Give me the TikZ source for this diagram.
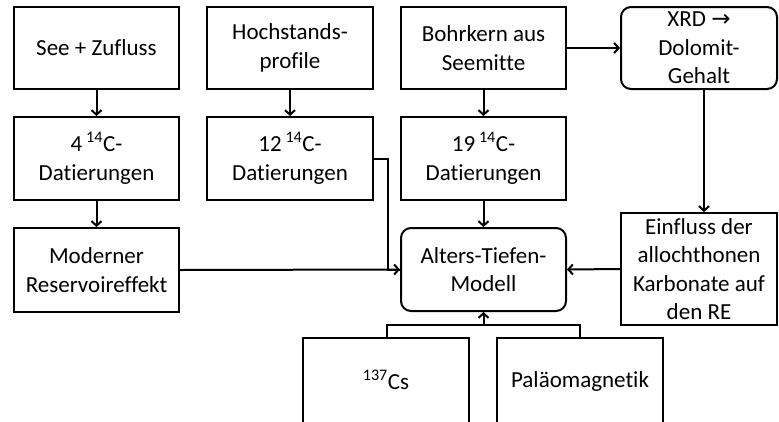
\documentclass[tikz,border=0pt]{standalone}
\usepackage{fontspec}
\setmainfont{Carlito}[Ligatures=NoCommon]
\usetikzlibrary{arrows.meta}
\begin{document}
\begin{tikzpicture}[x=1pt,y=-1pt,
  box/.style={draw,line width=2pt,align=center,inner sep=0pt,font=\fontsize{23}{28.5}\selectfont},
  rbox/.style={box,rounded corners=10pt},
  conn/.style={line width=2pt},
  arr/.style={conn,-{Straight Barb[length=4.5pt,width=10pt,line width=2pt]}}]
\useasboundingbox (0,0) rectangle (779,421);
\begin{scope}
\clip (0,0) rectangle (779,421);
% column 1
\node[box,minimum width=165pt,minimum height=82pt] (see) at (96.5,48) {See + Zufluss};
\node[box,minimum width=165pt,minimum height=83pt] (d4) at (96.5,158.5) {4\,\textsuperscript{14}C-\\Datierungen};
\node[box,minimum width=165pt,minimum height=84pt] (mod) at (96.5,270) {Moderner\\Reservoireffekt};
% column 2
\node[box,minimum width=166pt,minimum height=82pt] (hoch) at (290,48) {Hochstands-\\profile};
\node[box,minimum width=166pt,minimum height=83pt] (d12) at (290,158.5) {12\,\textsuperscript{14}C-\\Datierungen};
% column 3
\node[box,minimum width=165pt,minimum height=82pt] (bohr) at (483.5,48) {Bohrkern aus\\Seemitte};
\node[box,minimum width=165pt,minimum height=83pt] (d19) at (483.5,158.5) {19\,\textsuperscript{14}C-\\Datierungen};
\node[rbox,minimum width=165pt,minimum height=83pt] (atm) at (483.5,269.5) {Alters-Tiefen-\\Modell};
% column 4
\node[rbox,minimum width=156pt,minimum height=82pt] (xrd) at (699,48) {XRD {\fontspec{DejaVu Sans}\fontsize{23}{23}\selectfont →}\\Dolomit-\\Gehalt};
\node[box,minimum width=156pt,minimum height=112pt] (einf) at (699,269) {Einfluss der\\allochthonen\\Karbonate auf\\den RE};
% bottom
\node[box,minimum width=166pt,minimum height=120pt] (cs) at (386,398) {\textsuperscript{137}Cs\\[8pt]};
\node[box,minimum width=166pt,minimum height=120pt] (pal) at (580,398) {Paläomagnetik\\[8pt]};
% connectors
\draw[arr] (see) -- (d4);
\draw[arr] (d4) -- (mod);
\draw[arr] (hoch) -- (d12);
\draw[arr] (bohr) -- (d19);
\draw[arr] (d19) -- (atm);
\draw[arr] (bohr) -- (xrd);
\draw[arr] ([xshift=5pt]xrd.south) -- ([xshift=5pt]einf.north);
\draw[arr] (mod.east) -- (atm.west);
\draw[conn] (d12.east) -- ++(14,0) |- (atm.west);
\draw[arr] (einf.west) -- (atm.east);
\coordinate (jn) at (atm.south |- 0,325);
\draw[conn] ([xshift=1pt]cs.north) |- (jn) -| (pal.north);
\draw[arr] (jn) -- (atm.south);
\end{scope}
\end{tikzpicture}
\end{document}
